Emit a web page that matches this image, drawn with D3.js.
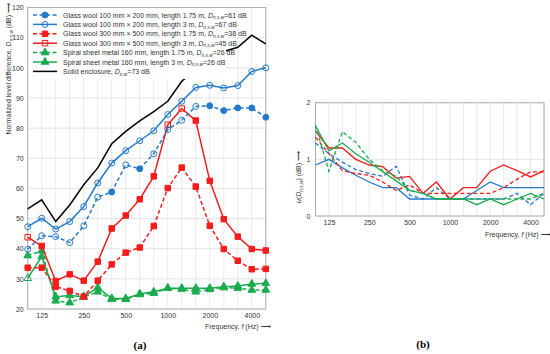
<!DOCTYPE html>
<html><head><meta charset="utf-8">
<script src="https://cdn.jsdelivr.net/npm/d3@7"></script>
<style>
body{margin:0;background:#fff;}
text{font-family:"Liberation Sans",Arial,sans-serif;fill:#333;}
</style></head><body>
<script>
// one-third octave bands, Hz
var bands = ["100","125","160","200","250","315","400","500","630","800","1000","1250","1600","2000","2500","3150","4000","5000"];
var tickBands = ["125","250","500","1000","2000","4000"];
var dnTicks = [20,30,40,50,60,70,80,90,100,110,120];
var uTicks = [0,1,2];

// (a) normalized level difference, dB
var gw100_175 = [39.8,44.3,44.0,42.0,47.6,57.1,58.8,67.8,66.5,71.5,79.5,82.6,87.2,87.4,85.8,86.7,86.7,83.6];
var gw100_175_open = ["100","125","160","200","250","315","500","800","1000","1250","1600"];
var gw100_3 = [47.3,50.1,46.5,49.0,54.0,61.8,68.4,72.5,75.8,79.1,84.5,88.9,93.5,94.2,93.3,94.1,98.8,100.0];
var gw100_3_open = bands;
var gw300_175 = [33.7,33.7,27.4,26.0,24.1,29.4,34.8,38.7,40.4,47.5,60.1,66.9,60.6,47.6,39.9,36.0,33.2,33.3];
var gw300_175_open = [];
var gw300_3 = [43.8,40.9,29.3,31.5,29.4,35.7,46.7,51.0,56.4,64.0,81.1,86.5,82.5,62.5,49.8,44.0,39.9,39.4];
var gw300_3_open = ["100","1000","1250"];
var sp_175 = [37.7,39.3,22.7,22.1,23.9,25.7,23.2,23.2,24.8,25.2,26.9,26.6,25.7,26.5,27.1,26.9,26.3,26.3];
var sp_175_open = [];
var sp_3 = [30.2,37.4,24.1,24.5,24.1,27.1,23.5,23.5,25.0,25.7,26.9,26.9,26.9,26.9,27.4,27.6,28.3,28.5];
var sp_3_open = ["100"];
var solid = [53.2,56.2,49.0,54.5,61.2,66.8,74.8,78.9,82.4,85.5,88.9,95.5,99.6,102.5,105.4,106.8,110.8,107.9];

// (b) uncertainty u(Dn,s,w), dB
var u_gw100_175 = [1.29,1.1,0.95,0.82,0.75,0.7,0.88,0.37,0.3,0.5,0.3,0.3,0.3,0.3,0.3,0.4,0.2,0.4];
var u_gw100_3 = [0.9,1.0,0.85,0.72,0.6,0.5,0.5,0.3,0.3,0.3,0.3,0.3,0.45,0.6,0.5,0.5,0.5,0.5];
var u_gw300_175 = [1.39,1.1,0.8,0.75,0.72,0.6,0.45,0.55,0.4,0.4,0.4,0.4,0.4,0.4,0.5,0.65,0.78,0.78];
var u_gw300_3 = [1.5,1.2,1.2,1.0,0.9,0.87,0.67,0.7,0.4,0.6,0.3,0.5,0.5,0.79,0.9,0.8,0.69,0.8];
var u_sp_175 = [1.6,0.79,1.49,1.3,1.0,0.8,0.7,0.45,0.4,0.3,0.3,0.3,0.3,0.3,0.3,0.3,0.3,0.4];
var u_sp_3 = [1.59,1.15,1.29,1.1,0.95,0.78,0.62,0.45,0.4,0.3,0.3,0.3,0.2,0.3,0.2,0.3,0.4,0.3];

var blue = '#2479c9', red = '#f51c1c', green = '#1aab4f';

var svg = d3.select('body').append('svg')
    .attr('width',550)
    .attr('height',354);

// ---------- (a) ----------
var x1 = d3.scalePoint().domain(bands).range([27.7,265.8]);
var y1 = d3.scaleLinear().domain([20,120]).range([309,7.5]);

var gA = svg.append('g');

gA.selectAll('.vg').data(bands).enter().append('line')
    .attr('x1',d => x1(d)).attr('x2',d => x1(d))
    .attr('y1',y1(20)).attr('y2',y1(120))
    .attr('stroke','#e4e4e4').attr('stroke-width',0.8);
gA.selectAll('.hg').data(dnTicks).enter().append('line')
    .attr('x1',x1('100')).attr('x2',x1('5000'))
    .attr('y1',d => y1(d)).attr('y2',d => y1(d))
    .attr('stroke','#dcdcdc').attr('stroke-width',0.8);
gA.append('rect')
    .attr('x',x1('100')).attr('y',y1(120))
    .attr('width',x1('5000')-x1('100')).attr('height',y1(20)-y1(120))
    .attr('fill','none').attr('stroke','#b0b0b0').attr('stroke-width',1);

var axY1 = gA.append('g').attr('transform','translate('+x1('100')+',0)')
    .call(d3.axisLeft(y1).tickValues(dnTicks).tickSize(0).tickPadding(4));
var axX1 = gA.append('g').attr('transform','translate(0,'+y1(20)+')')
    .call(d3.axisBottom(x1).tickValues(tickBands).tickSize(0).tickPadding(4));
[axY1,axX1].forEach(function(a){
    a.select('.domain').remove();
    a.selectAll('text').attr('font-size',7).attr('fill','#333')
        .style('font-family','"Liberation Sans",Arial,sans-serif');
});

var series = [
    {v:gw100_175, open:gw100_175_open, c:blue, dash:'4,2.5', m:'circle'},
    {v:gw100_3, open:gw100_3_open, c:blue, dash:null, m:'circle'},
    {v:gw300_175, open:gw300_175_open, c:red, dash:'4,2.5', m:'square'},
    {v:gw300_3, open:gw300_3_open, c:red, dash:null, m:'square'},
    {v:sp_175, open:sp_175_open, c:green, dash:'4,2.5', m:'triangle'},
    {v:sp_3, open:sp_3_open, c:green, dash:null, m:'triangle'}
];

function marker(g, type, x, y, c, open) {
    var sym = type==='circle' ? d3.symbolCircle : type==='square' ? d3.symbolSquare : d3.symbolTriangle;
    var size = type==='circle' ? 28 : type==='square' ? 30 : 26;
    g.append('path')
        .attr('d', d3.symbol().type(sym).size(size)())
        .attr('transform','translate('+x+','+y+')')
        .attr('fill', open ? 'none' : c)
        .attr('stroke', c).attr('stroke-width',1);
}

var line1 = d3.line().x((d,i) => x1(bands[i])).y(d => y1(d));

gA.append('path').datum(solid)
    .attr('d',line1).attr('fill','none')
    .attr('stroke','#000').attr('stroke-width',1.5);

series.slice().reverse().forEach(function(s){
    gA.append('path').datum(s.v)
        .attr('d',line1).attr('fill','none')
        .attr('stroke',s.c).attr('stroke-width',1.5)
        .attr('stroke-dasharray',s.dash);
    s.v.forEach(function(v,i){
        marker(gA, s.m, x1(bands[i]), y1(v), s.c, s.open.indexOf(bands[i])>=0);
    });
});

// legend
var legTexts = [
    ['Glass wool 100 mm \u00d7 200 mm, length 1.75 m, ','n,s,w','=61 dB'],
    ['Glass wool 100 mm \u00d7 200 mm, length 3 m, ','n,s,w','=67 dB'],
    ['Glass wool 300 mm \u00d7 500 mm, length 1.75 m, ','n,s,w','=38 dB'],
    ['Glass wool 300 mm \u00d7 500 mm, length 3 m, ','n,s,w','=45 dB'],
    ['Spiral sheet metal 160 mm, length 1.75 m, ','n,s,w','=26 dB'],
    ['Spiral sheet metal 160 mm, length 3 m, ','n,s,w','=26 dB'],
    ['Solid enclosure, ','n,w','=73 dB']
];
var legOpen = [false,true,false,true,false,false];

var leg = gA.append('g');
leg.append('rect').attr('x',29).attr('y',8).attr('width',197).attr('height',71).attr('fill','#fff');
legTexts.forEach(function(t,i){
    var ly = 15 + i*9.4;
    var s = series[i];
    leg.append('line').attr('x1',33).attr('x2',57).attr('y1',ly).attr('y2',ly)
        .attr('stroke', s ? s.c : '#000').attr('stroke-width',1.5)
        .attr('stroke-dasharray', s ? s.dash : null);
    if (s) marker(leg, s.m, 45, ly, s.c, legOpen[i]);
    var tx = leg.append('text').attr('x',63).attr('y',ly+2.5).attr('font-size',7);
    tx.append('tspan').text(t[0]);
    tx.append('tspan').attr('font-style','italic').text('D');
    tx.append('tspan').attr('font-size',4.8).attr('font-style','italic').attr('dy',1.6).text(t[1]);
    tx.append('tspan').attr('dy',-1.6).text(t[2]);
});

// axis titles (a)
var yt = gA.append('text').attr('transform','translate(11,3) rotate(-90)')
    .attr('text-anchor','end').attr('font-size',7);
yt.append('tspan').text('Normalized level difference, ');
yt.append('tspan').attr('font-style','italic').text('D');
yt.append('tspan').attr('font-size',4.8).attr('font-style','italic').attr('dy',1.6).text('n,s,w');
yt.append('tspan').attr('dy',-1.6).text(' (dB) \u27f6');

var xt = gA.append('text').attr('x',205).attr('y',329).attr('font-size',7);
xt.append('tspan').text('Frequency, ');
xt.append('tspan').attr('font-style','italic').text('f');
xt.append('tspan').text(' (Hz) \u27f6');

svg.append('text').attr('x',140).attr('y',349).attr('text-anchor','middle')
    .attr('font-size',11).attr('font-weight','bold')
    .style('font-family','"Liberation Serif",serif').style('fill','#000').text('(a)');

// ---------- (b) ----------
var x2 = d3.scalePoint().domain(bands).range([315.5,544]);
var y2 = d3.scaleLinear().domain([0,2]).range([216,102.7]);
var gB = svg.append('g');

gB.selectAll('.vg').data(bands).enter().append('line')
    .attr('x1',d => x2(d)).attr('x2',d => x2(d))
    .attr('y1',y2(0)).attr('y2',y2(2))
    .attr('stroke','#e4e4e4').attr('stroke-width',0.8);
gB.selectAll('.hg').data(uTicks).enter().append('line')
    .attr('x1',x2('100')).attr('x2',x2('5000'))
    .attr('y1',d => y2(d)).attr('y2',d => y2(d))
    .attr('stroke','#dcdcdc').attr('stroke-width',0.8);
gB.append('rect')
    .attr('x',x2('100')).attr('y',y2(2))
    .attr('width',x2('5000')-x2('100')).attr('height',y2(0)-y2(2))
    .attr('fill','none').attr('stroke','#b0b0b0').attr('stroke-width',1);

var axY2 = gB.append('g').attr('transform','translate('+x2('100')+',0)')
    .call(d3.axisLeft(y2).tickValues(uTicks).tickFormat(d3.format('d')).tickSize(0).tickPadding(5));
var axX2 = gB.append('g').attr('transform','translate(0,'+y2(0)+')')
    .call(d3.axisBottom(x2).tickValues(tickBands).tickSize(0).tickPadding(4));
[axY2,axX2].forEach(function(a){
    a.select('.domain').remove();
    a.selectAll('text').attr('font-size',7).attr('fill','#333')
        .style('font-family','"Liberation Sans",Arial,sans-serif');
});

var uSeries = [
    {v:u_gw100_175, c:blue, dash:'4,2.5'},
    {v:u_gw100_3, c:blue, dash:null},
    {v:u_gw300_175, c:red, dash:'4,2.5'},
    {v:u_gw300_3, c:red, dash:null},
    {v:u_sp_175, c:green, dash:'4,2.5'},
    {v:u_sp_3, c:green, dash:null}
];
var line2 = d3.line().x((d,i) => x2(bands[i])).y(d => y2(d));
uSeries.forEach(function(s){
    gB.append('path').datum(s.v)
        .attr('d',line2).attr('fill','none')
        .attr('stroke',s.c).attr('stroke-width',1.3)
        .attr('stroke-dasharray',s.dash);
});

var yt2 = gB.append('text').attr('transform','translate(301,203) rotate(-90)')
    .attr('font-size',7);
yt2.append('tspan').attr('font-style','italic').text('u');
yt2.append('tspan').text('(');
yt2.append('tspan').attr('font-style','italic').text('D');
yt2.append('tspan').attr('font-size',4.8).attr('font-style','italic').attr('dy',1.6).text('n,s,w');
yt2.append('tspan').attr('dy',-1.6).text(') (dB) \u27f6');

var xt2 = gB.append('text').attr('x',485).attr('y',237).attr('font-size',7);
xt2.append('tspan').text('Frequency, ');
xt2.append('tspan').attr('font-style','italic').text('f');
xt2.append('tspan').text(' (Hz) \u27f6');

svg.append('text').attr('x',423).attr('y',348).attr('text-anchor','middle')
    .attr('font-size',11).attr('font-weight','bold')
    .style('font-family','"Liberation Serif",serif').style('fill','#000').text('(b)');
</script>
</body></html>
